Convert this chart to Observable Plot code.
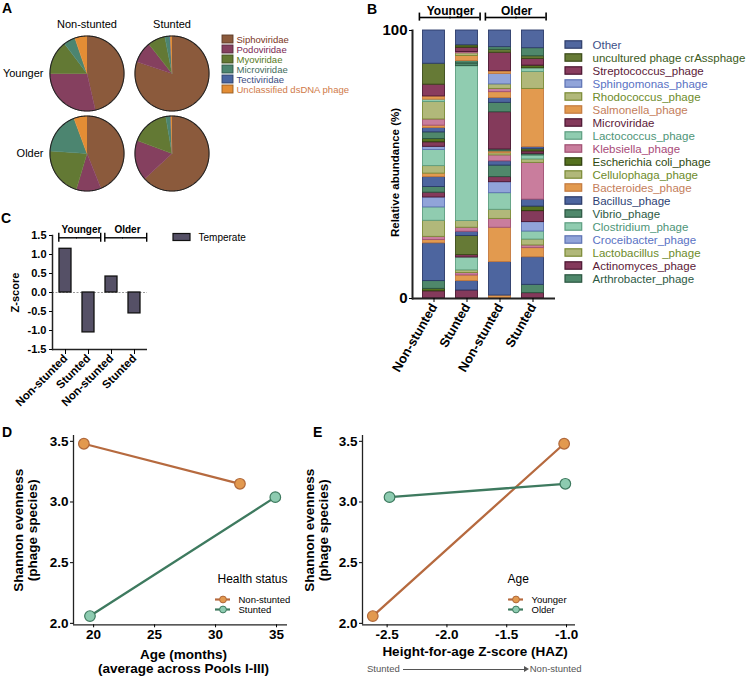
<!DOCTYPE html>
<html>
<head>
<meta charset="utf-8">
<script src="https://cdn.jsdelivr.net/npm/d3@7"></script>
<script src="https://cdn.jsdelivr.net/npm/@observablehq/plot@0.6"></script>
<style>
  body { margin: 0; background: #fff; }
  #fig { position: relative; width: 748px; height: 677px; overflow: hidden; background: #fff;
         font-family: "Liberation Sans", Arial, Helvetica, sans-serif; }
  .p { position: absolute; }
  .p svg { overflow: visible; display: block; }
  .letter { position: absolute; font-weight: bold; font-size: 14px; line-height: 14px; }
  .cap { position: absolute; font-size: 9.5px; color: #555; white-space: nowrap; line-height: 12px; }
  .arr { display: inline-block; position: relative; width: 122px; height: 0; border-top: 1px solid #555;
         vertical-align: middle; margin: 0 5px 0 3px; }
  .arr::after { content: ""; position: absolute; right: -4px; top: -3.5px; border-left: 5px solid #555;
         border-top: 3px solid transparent; border-bottom: 3px solid transparent; }
</style>
</head>
<body>
<div id="fig"></div>
<script>
// ================= DATA =================
// Panel A: phage family composition (% of reads), slices clockwise from 12 o'clock
const pieColumns = ["Non-stunted", "Stunted"];
const pieRows = ["Younger", "Older"];
const families = ["Siphoviridae", "Podoviridae", "Myoviridae", "Microviridae", "Tectiviridae", "Unclassified dsDNA phage"];
const familyFill = ["#8b5a3c", "#85405f", "#637934", "#4c8570", "#4a65a0", "#e38d35"];
const familyText = ["#7b3522", "#7a2753", "#587a1c", "#3f6b5c", "#3b4c82", "#d07a48"];
const youngerNonStunted = [46.4, 28.6, 14.6, 5.1, 0.0, 5.3];
const youngerStunted    = [80.1, 9.2, 7.6, 2.1, 0.3, 0.7];
const olderNonStunted   = [43.9, 10.8, 21.4, 18.2, 0.0, 5.7];
const olderStunted      = [63.2, 17.4, 16.7, 2.0, 0.2, 0.5];

// Panel B: relative abundance of phage species (stack bottom -> top)
const barGroups = ["Younger", "Younger", "Older", "Older"];
const barStatus = ["Non-stunted", "Stunted", "Non-stunted", "Stunted"];
const species = ["Other", "uncultured phage crAssphage", "Streptococcus_phage", "Sphingomonas_phage",
  "Rhodococcus_phage", "Salmonella_phage", "Microviridae", "Lactococcus_phage", "Klebsiella_phage",
  "Escherichia coli_phage", "Cellulophaga_phage", "Bacteroides_phage", "Bacillus_phage", "Vibrio_phage",
  "Clostridium_phage", "Croceibacter_phage", "Lactobacillus _phage", "Actinomyces_phage", "Arthrobacter_phage"];
const speciesFill = ["#51679f", "#667a36", "#893c5e", "#91a4d9", "#b1b87a", "#e29a4f", "#843a5b", "#90ccb0",
  "#c97d9d", "#55711f", "#b1b87a", "#e29a4f", "#4d659f", "#4f886b", "#90ccb0", "#91a4d9", "#b1b87a", "#843a5b", "#4f886b"];
const speciesStroke = ["#2d3c6a", "#3a4a18", "#4a1530", "#5d72b3", "#7a8a35", "#c47a3f", "#4a1530", "#5d9d80",
  "#a04f72", "#2c3c0c", "#7a8a35", "#c47a3f", "#2a3a68", "#2a5540", "#5d9d80", "#5d72b3", "#7a8a35", "#4a1530", "#2a5540"];
const speciesText = ["#3d5088", "#3b5a1a", "#5c1a38", "#5a72c4", "#6d8b2a", "#c47d5a", "#5c1a38", "#4e9578",
  "#a84a78", "#2f4a10", "#6d8b2a", "#c47d5a", "#2e3f74", "#2d5a44", "#4e9578", "#5a72c4", "#6d8b2a", "#5c1a38", "#2d5a44"];

const stackYoungerNonStunted = [
  ["Actinomyces_phage", 2.7], ["Escherichia coli_phage", 0.9], ["Arthrobacter_phage", 2.9], ["Bacillus_phage", 14.1],
  ["Bacteroides_phage", 1.2], ["Klebsiella_phage", 1.2], ["Lactobacillus _phage", 6.0], ["Clostridium_phage", 5.0],
  ["Croceibacter_phage", 3.7], ["Actinomyces_phage", 1.8], ["Vibrio_phage", 2.1], ["Bacillus_phage", 3.7],
  ["Bacteroides_phage", 1.3], ["Cellulophaga_phage", 2.8], ["Lactococcus_phage", 6.0], ["Sphingomonas_phage", 1.2],
  ["Microviridae", 1.7], ["Escherichia coli_phage", 1.2], ["Vibrio_phage", 2.5], ["Bacillus_phage", 1.6],
  ["Bacteroides_phage", 0.9], ["Klebsiella_phage", 2.3], ["Rhodococcus_phage", 6.5], ["Clostridium_phage", 0.9],
  ["Salmonella_phage", 1.2], ["Streptococcus_phage", 4.4], ["uncultured phage crAssphage", 7.8], ["Other", 12.4]];
const stackYoungerStunted = [
  ["Actinomyces_phage", 3.0], ["Bacillus_phage", 3.5], ["Bacteroides_phage", 2.1], ["Klebsiella_phage", 0.9],
  ["Lactobacillus _phage", 1.0], ["Clostridium_phage", 4.8], ["Actinomyces_phage", 0.9],
  ["uncultured phage crAssphage", 7.1], ["Bacillus_phage", 1.6], ["Klebsiella_phage", 1.5], ["Cellulophaga_phage", 2.5],
  ["Lactococcus_phage", 57.8], ["Vibrio_phage", 1.0], ["Arthrobacter_phage", 0.9], ["Salmonella_phage", 1.9],
  ["Rhodococcus_phage", 1.0], ["Klebsiella_phage", 0.5], ["Streptococcus_phage", 1.6],
  ["Escherichia coli_phage", 0.9], ["Other", 5.5]];
const stackOlderNonStunted = [
  ["Bacteroides_phage", 1.1], ["Bacillus_phage", 12.5], ["Bacteroides_phage", 12.8], ["Klebsiella_phage", 3.3],
  ["Lactobacillus _phage", 3.4], ["Clostridium_phage", 6.2], ["Croceibacter_phage", 4.1], ["Actinomyces_phage", 1.9],
  ["Vibrio_phage", 4.3], ["Bacillus_phage", 1.6], ["Klebsiella_phage", 2.2], ["Cellulophaga_phage", 0.8],
  ["Salmonella_phage", 0.7], ["Arthrobacter_phage", 0.7], ["Microviridae", 13.9], ["Vibrio_phage", 3.5],
  ["Bacillus_phage", 1.8], ["Salmonella_phage", 2.2], ["Klebsiella_phage", 1.2], ["Rhodococcus_phage", 1.7],
  ["Sphingomonas_phage", 3.9], ["Bacteroides_phage", 1.0], ["Streptococcus_phage", 6.9],
  ["uncultured phage crAssphage", 1.1], ["Arthrobacter_phage", 1.0], ["Other", 6.2]];
const stackOlderStunted = [
  ["Actinomyces_phage", 2.0], ["Arthrobacter_phage", 3.1], ["Bacillus_phage", 10.3], ["Bacteroides_phage", 3.4],
  ["Klebsiella_phage", 1.0], ["Lactobacillus _phage", 2.2], ["Clostridium_phage", 3.0], ["Croceibacter_phage", 3.5],
  ["Actinomyces_phage", 4.1], ["Escherichia coli_phage", 1.7], ["Bacillus_phage", 2.6], ["Klebsiella_phage", 13.7],
  ["Cellulophaga_phage", 1.3], ["Lactococcus_phage", 1.5], ["Vibrio_phage", 0.6], ["Microviridae", 0.9],
  ["Escherichia coli_phage", 0.8], ["Bacillus_phage", 0.8], ["Salmonella_phage", 21.7], ["Rhodococcus_phage", 6.3],
  ["Lactococcus_phage", 1.4], ["Escherichia coli_phage", 1.0], ["Streptococcus_phage", 2.5],
  ["uncultured phage crAssphage", 1.0], ["Vibrio_phage", 3.0], ["Other", 6.6]];

// Panel C: temperate phage Z-scores
const temperateZ = [1.15, -1.05, 0.42, -0.55];
const zTicks = [-1.5, -1.0, -0.5, 0.0, 0.5, 1.0, 1.5];

// Panels D & E: Shannon evenness per pool
const poolAge = ["Younger", "Younger", "Older", "Older"];
const poolStatus = ["Non-stunted", "Stunted", "Non-stunted", "Stunted"];
const poolMonths = [19.2, 19.7, 32.0, 34.9];
const poolHAZ = [-1.02, -2.62, -1.01, -2.48];
const poolEvenness = [3.48, 2.06, 3.15, 3.04];
const healthLevels = ["Non-stunted", "Stunted"];
const ageLevels = ["Younger", "Older"];
const seriesLine = ["#b66a3f", "#3e7a5f"];
const seriesDotFill = ["#e2994f", "#8dcbb0"];
const seriesDotStroke = ["#b0683a", "#3e7a5f"];
const monthTicks = [20, 25, 30, 35];
const hazTicks = [-2.5, -2.0, -1.5, -1.0];
const evenTicks = [2.0, 2.5, 3.0, 3.5];

// ================= HELPERS =================
const FONT = '"Liberation Sans", Arial, Helvetica, sans-serif';
const baseStyle = {background: "transparent", fontFamily: FONT, overflow: "visible", color: "#000"};
const fig = document.getElementById("fig");
function place(node, left, top) {
  const d = document.createElement("div");
  d.className = "p"; d.style.left = left + "px"; d.style.top = top + "px";
  d.appendChild(node); fig.appendChild(d);
}
function letter(t, left, top) {
  const d = document.createElement("div");
  d.className = "letter"; d.textContent = t; d.style.left = left + "px"; d.style.top = top + "px";
  fig.appendChild(d);
}
const darker = (c, k = 1) => d3.color(c).darker(k).formatHex();

// ================= PANEL A (pies) =================
const pieSets = [
  {age: "Younger", status: "Non-stunted", values: youngerNonStunted},
  {age: "Younger", status: "Stunted", values: youngerStunted},
  {age: "Older", status: "Non-stunted", values: olderNonStunted},
  {age: "Older", status: "Stunted", values: olderStunted}
];
const wedgePoints = [], rimPoints = [];
for (const p of pieSets) {
  d3.pie().sort(null)(p.values).forEach((a, i) => {
    const span = a.endAngle - a.startAngle;
    if (span <= 0) return;
    const key = `${p.age}|${p.status}|${i}`;
    const n = Math.max(2, Math.ceil(span / 0.02));
    const base = {key, age: p.age, status: p.status, color: familyFill[i]};
    wedgePoints.push({...base, px: 0, py: 0});
    for (let k = 0; k <= n; k++) {
      const t = a.startAngle + span * k / n;
      wedgePoints.push({...base, px: Math.sin(t), py: Math.cos(t)});
    }
  });
  for (let k = 0; k <= 180; k++) {
    const t = 2 * Math.PI * k / 180;
    rimPoints.push({key: p.age + p.status, age: p.age, status: p.status, px: Math.sin(t), py: Math.cos(t)});
  }
}
place(Plot.plot({
  width: 220, height: 195, marginLeft: 47, marginRight: 9, marginTop: 34, marginBottom: 3,
  style: baseStyle,
  x: {domain: [-1.04, 1.04], axis: null},
  y: {domain: [-1.04, 1.04], axis: null},
  fx: {domain: pieColumns, paddingInner: 0.093, paddingOuter: 0},
  fy: {domain: pieRows, paddingInner: 0.025, paddingOuter: 0},
  color: {type: "identity"},
  marks: [
    Plot.line(wedgePoints, {x: "px", y: "py", z: "key", fx: "status", fy: "age", fill: "color", stroke: "color", strokeWidth: 0.6}),
    Plot.line(rimPoints, {x: "px", y: "py", z: "key", fx: "status", fy: "age", stroke: "#222", strokeWidth: 1.1}),
    Plot.axisFx({anchor: "top", tickSize: 0, tickPadding: 7, fontSize: 11, label: null}),
    Plot.axisFy({anchor: "left", tickSize: 0, tickPadding: 5, fontSize: 11, label: null})
  ]
}), 0, 0);

place(Plot.plot({
  width: 150, height: 60, margin: 0, style: baseStyle,
  x: {domain: [0, 1], range: [4, 15], axis: null},
  y: {type: "band", domain: families, range: [0, 60], padding: 0, axis: null},
  color: {type: "identity"},
  marks: [
    Plot.barX(families, {y: d => d, x1: 0, x2: 1, fill: (d, i) => familyFill[i], stroke: (d, i) => darker(familyFill[i], 1.2), strokeWidth: 0.9, insetTop: 1, insetBottom: 1}),
    Plot.text(families, {y: d => d, x: d => 1, text: d => d, dx: 3, textAnchor: "start", fill: (d, i) => familyText[i], fontSize: 9.5})
  ]
}), 218, 34);

// ================= PANEL B (stacked bars) =================
const barKeys = barGroups.map((g, i) => g + "|" + barStatus[i]);
const firstBars = barKeys.filter((k, i) => i % 2 === 0);
const secondBars = barKeys.filter((k, i) => i % 2 === 1);
const stacks = [stackYoungerNonStunted, stackYoungerStunted, stackOlderNonStunted, stackOlderStunted];
const bRows = [];
stacks.forEach((s, i) => s.forEach(([sp, v]) => bRows.push({bar: barKeys[i], species: sp, value: v})));
const spIndex = new Map(species.map((s, i) => [s, i]));

place(Plot.plot({
  width: 185, height: 380, marginLeft: 32, marginRight: 10, marginTop: 30, marginBottom: 82,
  style: baseStyle,
  x: {domain: barKeys, padding: 0.3},
  y: {domain: [0, 100]},
  color: {type: "identity"},
  marks: [
    Plot.barY(bRows, {x: "bar", y: "value", fill: d => speciesFill[spIndex.get(d.species)], stroke: d => speciesStroke[spIndex.get(d.species)], strokeWidth: 0.9, insetLeft: 0.5, insetRight: 0.5}),
    Plot.ruleY([0], {strokeWidth: 2, stroke: "#222"}),
    Plot.frame({anchor: "left", strokeWidth: 2, stroke: "#222"}),
    Plot.axisY({ticks: [0, 100], tickFormat: d => String(d), tickSize: 3, tickPadding: 2, fontSize: 15, fontWeight: "bold", label: null}),
    Plot.text(["Relative abundance (%)"], {text: d => d, frameAnchor: "left", textAnchor: "middle", dx: -17, dy: 8, rotate: -90, fontSize: 11.5, fontWeight: "bold"}),
    Plot.axisX({tickRotate: -60, tickSize: 4, tickPadding: 2, fontSize: 13, fontWeight: "bold", label: null, tickFormat: k => k.split("|")[1]}),
    Plot.text(firstBars, {x: d => d, text: d => d.split("|")[0], frameAnchor: "top", dx: 16.6, dy: -24, fontSize: 12, fontWeight: "bold"}),
    Plot.tickY(firstBars, {x: d => d, y: d => 100, dy: -13, insetLeft: -3, insetRight: -6, strokeWidth: 1.6}),
    Plot.tickY(secondBars, {x: d => d, y: d => 100, dy: -13, insetLeft: -6, insetRight: -1.5, strokeWidth: 1.6}),
    Plot.ruleX(firstBars, {x: d => d, y1: d => 103.5, y2: d => 106.5, dx: -14.6, strokeWidth: 1.6}),
    Plot.ruleX(secondBars, {x: d => d, y1: d => 103.5, y2: d => 106.5, dx: 13.1, strokeWidth: 1.6})
  ]
}), 380, 0);

place(Plot.plot({
  width: 188, height: 260, margin: 0, style: baseStyle,
  x: {domain: [0, 1], range: [5, 21.7], axis: null},
  y: {type: "band", domain: species, range: [0, 259], padding: 0, axis: null},
  color: {type: "identity"},
  marks: [
    Plot.barX(species, {y: d => d, x1: 0, x2: 1, fill: (d, i) => speciesFill[i], stroke: (d, i) => speciesStroke[i], strokeWidth: 1.2, insetTop: 2.8, insetBottom: 2.8}),
    Plot.text(species, {y: d => d, x: d => 1, text: d => d, dx: 10.3, textAnchor: "start", fill: (d, i) => speciesText[i], fontSize: 11.5})
  ]
}), 560, 32);

// ================= PANEL C (temperate Z-score) =================
const cRows = barKeys.map((k, i) => ({bar: k, z: temperateZ[i]}));
place(Plot.plot({
  width: 160, height: 220, marginLeft: 52, marginRight: 13, marginTop: 45, marginBottom: 61,
  style: baseStyle,
  x: {domain: barKeys, paddingInner: 0.48, paddingOuter: 0.22},
  y: {domain: [-1.5, 1.5]},
  marks: [
    Plot.ruleY([0], {stroke: "#999", strokeDasharray: "2,1.5"}),
    Plot.barY(cRows, {x: "bar", y: "z", fill: "#555066", stroke: "#111", strokeWidth: 1.3}),
    Plot.ruleY([-1.5], {strokeWidth: 1.5, stroke: "#222"}),
    Plot.frame({anchor: "left", strokeWidth: 1.5, stroke: "#222"}),
    Plot.axisY({ticks: zTicks, tickFormat: d => d.toFixed(1), tickSize: 3, tickPadding: 3, fontSize: 11, fontWeight: "bold", label: null}),
    Plot.text(["Z-score"], {text: d => d, frameAnchor: "left", textAnchor: "middle", dx: -37, rotate: -90, fontSize: 11, fontWeight: "bold"}),
    Plot.axisX({tickRotate: -45, tickSize: 5, tickPadding: 2, fontSize: 11.5, fontWeight: "bold", label: null, tickFormat: k => k.split("|")[1]}),
    Plot.text(firstBars, {x: d => d, text: d => d.split("|")[0], frameAnchor: "top", dx: 16, dy: -10, fontSize: 10, fontWeight: "bold"}),
    Plot.tickY(firstBars, {x: d => d, y: d => 1.5, dy: 2.3, insetLeft: -0.5, insetRight: -6, strokeWidth: 1.4}),
    Plot.tickY(secondBars, {x: d => d, y: d => 1.5, dy: 2.3, insetLeft: -6, insetRight: -6, strokeWidth: 1.4}),
    Plot.ruleX(firstBars, {x: d => d, y1: d => 1.325, y2: d => 1.56, dx: -6.7, strokeWidth: 1.4}),
    Plot.ruleX(secondBars, {x: d => d, y1: d => 1.325, y2: d => 1.56, dx: 12.2, strokeWidth: 1.4})
  ]
}), 0, 190);

place(Plot.plot({
  width: 80, height: 20, margin: 0, style: baseStyle,
  x: {domain: [0, 1], range: [3, 20], axis: null},
  y: {type: "band", domain: ["Temperate"], range: [0, 20], padding: 0, axis: null},
  marks: [
    Plot.barX(["Temperate"], {y: d => d, x1: 0, x2: 1, fill: "#555066", stroke: "#111", strokeWidth: 1.2, insetTop: 6.5, insetBottom: 6.5}),
    Plot.text(["Temperate"], {y: d => d, x: d => 1, text: d => d, dx: 8, textAnchor: "start", fontSize: 10})
  ]
}), 170, 227);

// ================= PANELS D & E (lines) =================
const pools = poolAge.map((a, i) => ({age: a, status: poolStatus[i], months: poolMonths[i], haz: poolHAZ[i], evenness: poolEvenness[i]}));
const yDomain = [1.988, 3.548];
const hIdx = d => healthLevels.indexOf(d.status);
const aIdx = d => ageLevels.indexOf(d.age);

function linePanel({xField, xDomain, xTicks, seriesField, idx, xTitle, titleDy, titleDx, yTitleDx, width, marginLeft, marginRight}) {
  return Plot.plot({
    width, height: 252, marginLeft, marginRight, marginTop: 10, marginBottom: 52.7,
    style: baseStyle,
    x: {domain: xDomain},
    y: {domain: yDomain},
    color: {type: "identity"},
    marks: [
      Plot.ruleX([xDomain[0]], {stroke: "#222", strokeWidth: 1.3}),
      Plot.ruleY([yDomain[0]], {stroke: "#222", strokeWidth: 1.3}),
      Plot.line(pools, {x: xField, y: "evenness", z: seriesField, stroke: d => seriesLine[idx(d)], strokeWidth: 2.3}),
      Plot.dot(pools, {x: xField, y: "evenness", r: 5.3, fill: d => seriesDotFill[idx(d)], stroke: d => seriesDotStroke[idx(d)], strokeWidth: 1.2}),
      Plot.axisX({ticks: xTicks, tickFormat: d => xField === "months" ? String(d) : d.toFixed(1), tickSize: 3, tickPadding: 2, fontSize: 13.5, fontWeight: "bold", label: null}),
      Plot.axisY({ticks: evenTicks, tickFormat: d => d.toFixed(1), tickSize: 3, tickPadding: 2, fontSize: 13.5, fontWeight: "bold", label: null}),
      Plot.text([xTitle], {text: d => d, frameAnchor: "bottom", textAnchor: "middle", dx: titleDx, dy: titleDy, lineAnchor: "top", lineHeight: 1.05, fontSize: 13.5, fontWeight: "bold"}),
      Plot.text(["Shannon evenness\n(phage species)"], {text: d => d, frameAnchor: "left", textAnchor: "middle", dx: yTitleDx, rotate: -90, lineAnchor: "top", lineHeight: 1.05, fontSize: 13.5, fontWeight: "bold"})
    ]
  });
}

place(linePanel({xField: "months", xDomain: [18.35, 35.9], xTicks: monthTicks, seriesField: "status", idx: hIdx,
  xTitle: "Age (months)\n(average across Pools I-III)", titleDy: 24, titleDx: 3, yTitleDx: -61, width: 300, marginLeft: 73, marginRight: 13}), 0, 425);
place(linePanel({xField: "haz", xDomain: [-2.706, -0.925], xTicks: hazTicks, seriesField: "age", idx: aIdx,
  xTitle: "Height-for-age Z-score (HAZ)", titleDy: 21, titleDx: 6, yTitleDx: -59, width: 300, marginLeft: 72, marginRight: 15}), 290, 425);

function lineLegend(title, names, titleDx) {
  return Plot.plot({
    width: 110, height: 60, margin: 0, style: baseStyle,
    x: {domain: [0, 1], range: [2, 17], axis: null},
    y: {type: "point", domain: names, range: [29, 49], axis: null},
    color: {type: "identity"},
    marks: [
      Plot.text([title], {text: d => d, frameAnchor: "top-left", dx: titleDx, dy: 9, textAnchor: "start", fontSize: 12}),
      Plot.ruleY(names, {y: d => d, x1: 0, x2: 1, stroke: (d, i) => seriesLine[i], strokeWidth: 2.2}),
      Plot.dot(names, {y: d => d, x: d => 0.5, r: 3.4, fill: (d, i) => seriesDotFill[i], stroke: (d, i) => seriesDotStroke[i], strokeWidth: 1}),
      Plot.text(names, {y: d => d, x: d => 1, text: d => d, dx: 8, textAnchor: "start", fontSize: 9.5})
    ]
  });
}
place(lineLegend("Health status", healthLevels, 4), 213, 565);
place(lineLegend("Age", ageLevels, 1), 506, 565);

// caption under E
const cap = document.createElement("div");
cap.className = "cap";
cap.style.left = "367px"; cap.style.top = "663px";
cap.innerHTML = '<span>Stunted</span><span class="arr"></span><span>Non-stunted</span>';
fig.appendChild(cap);

// panel letters
letter("A", 2, 1); letter("B", 367, 2); letter("C", 1, 211); letter("D", 2, 425); letter("E", 313, 425);
</script>
</body>
</html>
